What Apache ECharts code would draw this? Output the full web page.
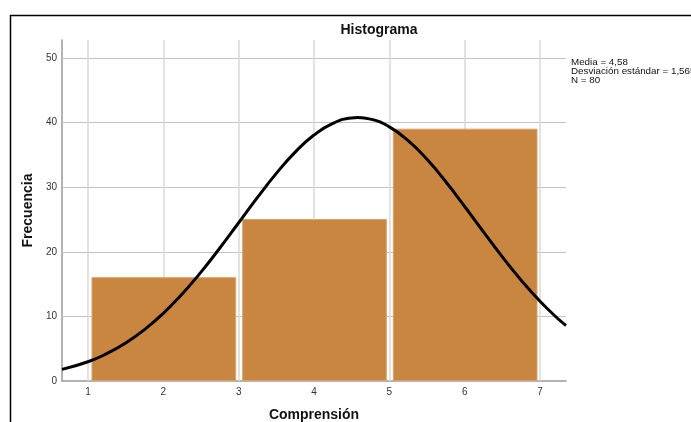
<!DOCTYPE html>
<html>
<head>
<meta charset="utf-8">
<script src="https://cdn.jsdelivr.net/npm/echarts@6/dist/echarts.min.js"></script>
<style>html,body{margin:0;padding:0;background:#fff;width:100%;height:100%;overflow:hidden}#c{width:100%;height:100%}</style>
</head>
<body>
<div id="c"></div>
<script>
// Histogram bins and frequencies
const binStart = [1, 3, 5];
const binEnd = [3, 5, 7];
const counts = [16, 25, 39];
// Normal curve
const curveX = [0.655, 1, 1.25, 1.5, 1.75, 2, 2.25, 2.5, 2.75, 3, 3.25, 3.5, 3.75, 4, 4.25, 4.5, 4.58, 4.75, 5, 5.25, 5.5, 5.75, 6, 6.25, 6.5, 6.75, 7, 7.25, 7.345];
const curveY = [1.8, 2.98, 4.24, 5.88, 7.95, 10.48, 13.47, 16.86, 20.59, 24.5, 28.42, 32.15, 35.44, 38.08, 39.89, 40.74, 40.79, 40.55, 39.35, 37.22, 34.32, 30.85, 27.02, 23.08, 19.22, 15.6, 12.34, 9.52, 8.6];
const xTicks = [1, 2, 3, 4, 5, 6, 7];
const yTicks = [10, 20, 30, 40, 50];
const statLines = ['Media = 4,58', 'Desviación estándar = 1,565', 'N = 80'];

const font = '"Liberation Sans", Arial, sans-serif';
const chart = echarts.init(document.getElementById('c'));
const barData = binStart.map((s, i) => [s, binEnd[i], counts[i]]);
const lineData = curveX.map((x, i) => [x, curveY[i]]);
const gridMarks = [
  ...yTicks.map(v => ({ yAxis: v, lineStyle: { color: '#c4c4c4', width: 1, type: 'solid' } })),
  ...xTicks.map(v => ({ xAxis: v, lineStyle: { color: '#dadada', width: 1.5, type: 'solid' } }))
];

chart.setOption({
  animation: false,
  grid: { left: 62, right: 125, top: 40, bottom: 41, containLabel: false, outerBoundsMode: 'none' },
  xAxis: {
    type: 'value', min: 0.655, max: 7.345, splitNumber: 7,
    name: 'Comprensión', nameLocation: 'middle', nameGap: 27,
    nameTextStyle: { fontFamily: font, fontSize: 14, fontWeight: 'bold', color: '#111' },
    axisLine: { show: true, lineStyle: { color: '#9a9a9a', width: 1.5 } },
    axisTick: { show: false },
    splitLine: { show: false },
    axisLabel: {
      fontFamily: font, fontSize: 10, color: '#333', margin: 6,
      formatter: v => (xTicks.includes(Math.round(v * 1000) / 1000) ? String(Math.round(v)) : '')
    }
  },
  yAxis: {
    type: 'value', min: 0, max: 52.8, interval: 10,
    name: 'Frecuencia', nameLocation: 'middle', nameGap: 25,
    nameTextStyle: { fontFamily: font, fontSize: 14, fontWeight: 'bold', color: '#111' },
    axisLine: { show: true, lineStyle: { color: '#9a9a9a', width: 1.5 } },
    axisTick: { show: false },
    splitLine: { show: false },
    axisLabel: {
      fontFamily: font, fontSize: 10, color: '#333', margin: 5,
      formatter: v => (Math.abs(v % 10) < 1e-6 ? String(v) : '')
    }
  },
  series: [
    {
      type: 'custom',
      data: barData,
      z: 3,
      renderItem: (params, api) => {
        const p0 = api.coord([api.value(0), api.value(2)]);
        const p1 = api.coord([api.value(1), 0]);
        return {
          type: 'rect',
          shape: { x: p0[0] + 4, y: p0[1], width: p1[0] - p0[0] - 7, height: p1[1] - p0[1] - 0.5 },
          style: { fill: '#C98641', stroke: '#D9A36E', lineWidth: 1 }
        };
      }
    },
    {
      type: 'line',
      data: lineData,
      smooth: true,
      showSymbol: false,
      symbol: 'none',
      z: 5,
      lineStyle: { color: '#000', width: 3 },
      markLine: {
        silent: true, symbol: ['none', 'none'], z: 1,
        label: { show: false },
        data: gridMarks
      }
    }
  ],
  graphic: [
    {
      type: 'rect', z: -1, silent: true,
      shape: { x: 10.5, y: 15.5, width: 800, height: 600 },
      style: { fill: 'none', stroke: '#000', lineWidth: 1.5 }
    },
    {
      type: 'text', silent: true, x: 379, y: 30,
      style: { text: 'Histograma', font: 'bold 14px ' + font, fill: '#111', textAlign: 'center', textVerticalAlign: 'middle' }
    },
    {
      type: 'text', silent: true, x: 571, y: 58,
      style: { text: statLines.join('\n'), font: '9.8px ' + font, fill: '#111', lineHeight: 9 }
    }
  ]
});
</script>
</body>
</html>
